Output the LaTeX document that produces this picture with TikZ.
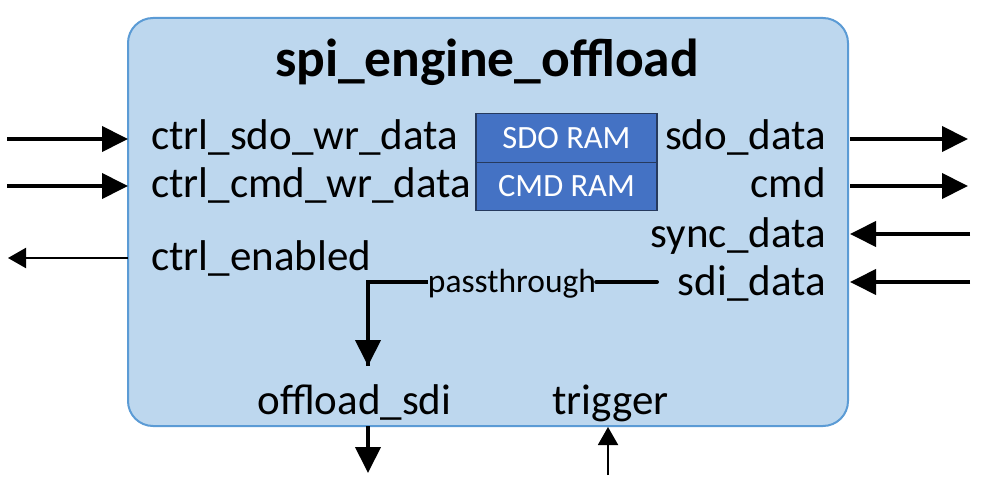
\documentclass[tikz,border=0pt]{standalone}
\usepackage{fontspec}
\setmainfont{Carlito}
\usetikzlibrary{arrows.meta}
\definecolor{boxfill}{HTML}{BDD7EE}
\definecolor{boxline}{HTML}{5B9BD5}
\definecolor{ramfill}{HTML}{4472C4}
\definecolor{ramline}{HTML}{263A5E}
\tikzset{
  mainbox/.style={draw=boxline, fill=boxfill, line width=2pt, rounded corners=25pt, minimum width=720pt, minimum height=408pt, inner sep=0pt},
  ramblock/.style={draw=ramline, fill=ramfill, line width=1.2pt, minimum width=181pt, minimum height=48.5pt, inner sep=0pt, text=white, font=\fontsize{32.5}{38}\selectfont},
  lbl/.style={inner sep=0pt, font=\fontsize{43}{50}\selectfont},
  thickarrow/.style={line width=4pt, -{Triangle[length=26pt,width=25pt]}},
  thinarrow/.style={line width=2pt, -{Triangle[length=18pt,width=20pt]}},
  thickline/.style={line width=4pt},
}
\begin{document}
\begin{tikzpicture}[x=1pt,y=-1pt]
\useasboundingbox (0,0) rectangle (982,489);
\node[mainbox] (box) at (488,222) {};
\node[inner sep=0pt, font=\fontsize{53.5}{62}\selectfont\bfseries, anchor=base] (title) at (487,77) {spi\_engine\_offload};
% RAM blocks
\node[ramblock] (sdoram) at (566.5,138) {SDO RAM};
\node[ramblock] (cmdram) at (566.5,186.5) {CMD RAM};
% left labels
\node[lbl, anchor=base west] (l1) at (151,150) {ctrl\_sdo\_wr\_data};
\node[lbl, anchor=base west] (l2) at (151,197) {ctrl\_cmd\_wr\_data};
\node[lbl, anchor=base west] (l3) at (151,270) {ctrl\_enabled};
% right labels
\node[lbl, anchor=base east] (r1) at (826,150) {sdo\_data};
\node[lbl, anchor=base east] (r2) at (826,197) {cmd};
\node[lbl, anchor=base east] (r3) at (826,247) {sync\_data};
\node[lbl, anchor=base east] (r4) at (826,295) {sdi\_data};
% bottom labels
\node[lbl, anchor=base] (b1) at (354.5,414) {offload\_sdi};
\node[lbl, anchor=base] (b2) at (610.5,414) {trigger};
% passthrough
\node[inner sep=0pt, font=\fontsize{33.5}{39}\selectfont, anchor=base] (pt) at (512,292) {passthrough};
% coordinates
\coordinate (inA) at (7,139);
\coordinate (inAe) at (128,139);
\coordinate (inB) at (7,186);
\coordinate (inBe) at (128,186);
\coordinate (enS) at (128,258);
\coordinate (enE) at (8,258);
\coordinate (oA) at (850,139);
\coordinate (oAe) at (968,139);
\coordinate (oB) at (850,186);
\coordinate (oBe) at (968,186);
\coordinate (sy) at (970,234);
\coordinate (sye) at (850,234);
\coordinate (sd) at (970,282);
\coordinate (sde) at (850,282);
\coordinate (pR) at (657,282);
\coordinate (pL) at (368,282);
\coordinate (pTip) at (368,366);
\coordinate (osS) at (368,426);
\coordinate (osE) at (368,473);
\coordinate (trS) at (608,475);
\coordinate (trE) at (608,427);
% arrows
\draw[thickarrow] (inA) -- (inAe);
\draw[thickarrow] (inB) -- (inBe);
\draw[thinarrow] (enS) -- (enE);
\draw[thickarrow] (oA) -- (oAe);
\draw[thickarrow] (oB) -- (oBe);
\draw[thickarrow] (sy) -- (sye);
\draw[thickarrow] (sd) -- (sde);
\draw[thickline, line cap=round] (pR) -- (pt.east |- pR);
\draw[thickline] (pt.west |- pL) -- (pL) -- (pTip);
\draw[thickarrow] (pL) -- (pTip);
\draw[thickarrow] (osS) -- (osE);
\draw[thinarrow] (trS) -- (trE);
\end{tikzpicture}
\end{document}
